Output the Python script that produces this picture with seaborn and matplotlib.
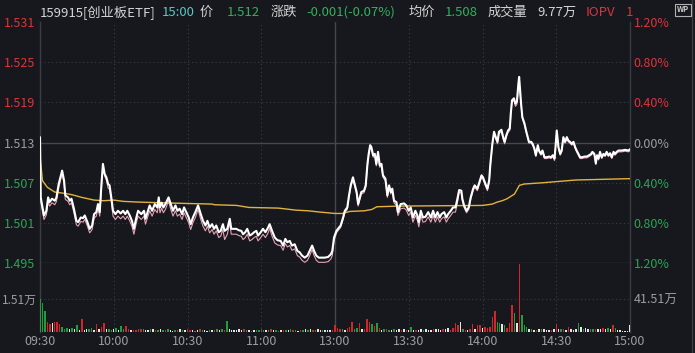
import matplotlib
matplotlib.use("Agg")
import matplotlib.pyplot as plt
from matplotlib.lines import Line2D
import seaborn as sns

# ==================================================
# Data (minutes after 09:30, lunch break removed)
# ==================================================
price_time = [
    0.0, 0.3, 1.6, 2.6, 3.3, 3.9, 4.9, 6.0, 6.7, 7.6,
    9.0, 9.8, 10.3, 11.4, 12.1, 12.8, 13.8, 14.8, 15.5, 16.6,
    17.5, 18.2, 19.3, 20.2, 21.2, 22.0, 22.9, 23.6, 24.3, 25.0,
    25.6, 26.3, 27.0, 27.7, 28.3, 29.0, 29.7, 30.7, 31.7, 32.8,
    33.8, 34.7, 35.5, 36.5, 37.4, 38.2, 39.2, 39.9, 41.2, 42.3,
    42.9, 43.9, 44.6, 45.6, 46.7, 47.7, 48.3, 48.8,
    49.5, 50.2, 51.0, 52.3, 53.2, 54.1, 55.1, 55.9, 56.8, 57.8,
    58.6, 59.5, 60.5, 61.3, 62.2, 63.2, 64.3, 65.4, 66.3, 67.3,
    68.1, 69.0, 70.0, 70.8, 71.7, 72.7, 73.5, 74.4, 75.1, 76.2,
    77.2, 77.8, 78.9, 79.9, 80.8, 81.9, 82.6, 83.5, 84.3, 85.3,
    86.2, 87.1, 88.0, 88.7, 89.8, 90.7, 91.7, 92.8, 93.4, 94.4,
    95.5,
    96.6, 97.9, 98.9, 99.8, 100.6, 101.6, 102.5, 103.6, 104.7, 105.6,
    106.6, 107.7, 108.8, 109.7, 110.7, 111.5, 112.4, 113.4, 114.5, 115.8,
    117.2, 118.3, 118.9, 119.6, 120.6, 121.2, 122.3, 123.3, 124.0, 125.0,
    125.7, 126.4, 127.3, 128.0, 128.8, 129.4, 130.1, 130.7, 131.8, 132.5,
    133.2, 133.7, 134.3, 134.8, 135.5, 136.2, 136.8, 137.5, 138.2, 138.9,
    139.5, 140.5, 141.3, 142.0, 142.7, 143.3, 144.0, 145.0, 145.6,
    146.7, 148.1, 149.0, 150.0, 150.8, 151.7, 152.7, 153.5, 154.1, 154.9,
    155.8, 156.8, 157.9, 159.0, 159.9, 160.8, 161.7, 162.6, 163.3, 164.4,
    165.3, 166.0, 167.1, 168.0, 169.0, 169.8, 170.5, 171.4, 171.8, 172.5,
    173.5, 174.4, 175.2, 176.2, 176.8, 177.9, 178.9, 179.6, 180.2, 181.2,
    182.0, 182.7, 183.2, 184.0, 184.7, 185.4, 186.1, 186.7, 187.7, 188.4,
    189.0, 189.7, 190.4, 191.1, 191.5, 192.0, 192.8,
    193.4, 194.0, 194.6, 194.9, 195.3, 195.7, 196.2, 197.1, 197.7, 198.4,
    198.9, 199.8, 200.4, 201.1, 201.7, 202.5, 203.0, 203.8, 204.4, 205.2,
    206.1, 207.1, 207.9, 208.6, 209.3, 209.8, 210.2, 210.9, 211.6, 212.2,
    212.9, 213.6, 214.3, 214.9, 215.6, 216.3, 217.0, 217.7, 218.3, 219.0,
    219.7, 220.4, 221.5, 222.4, 223.4, 224.2, 224.7, 225.5, 226.1, 226.6,
    227.2, 227.8, 228.5, 229.2, 229.9, 230.5, 231.2, 231.9, 232.6, 233.3,
    233.9, 234.6, 235.3, 236.6, 238.0, 239.4, 240.0,
]
price = [
    1.5138, 1.5048, 1.5021, 1.5028, 1.5048, 1.5041, 1.5046, 1.5043, 1.5048, 1.5068,
    1.5088, 1.5073, 1.5051, 1.5048, 1.5043, 1.5046, 1.5031, 1.5013, 1.5011, 1.5018,
    1.5017, 1.5021, 1.5011, 1.5001, 1.5006, 1.5023, 1.5026, 1.5038, 1.5026, 1.5068,
    1.5098, 1.5083, 1.5078, 1.5068, 1.5066, 1.5048, 1.5028, 1.5023, 1.5028, 1.5024,
    1.5028, 1.5023, 1.5028, 1.5021, 1.5013, 1.5001, 1.5018, 1.5028, 1.5023, 1.5028,
    1.5016, 1.5028, 1.5036, 1.5028, 1.5038, 1.5033, 1.5048, 1.5033,
    1.5040, 1.5033, 1.5038, 1.5048, 1.5038, 1.5028, 1.5036, 1.5028, 1.5031, 1.5023,
    1.5033, 1.5026, 1.5018, 1.5008, 1.5018, 1.5026, 1.5036, 1.5023, 1.5013, 1.5006,
    1.5013, 1.5003, 1.5008, 1.5001, 1.5006, 1.4996, 1.4998, 1.5008, 1.4998, 1.5001,
    1.5016, 1.5001, 1.5001, 1.5001, 1.4999, 1.4998, 1.4993, 1.4996, 1.5001, 1.4991,
    1.4993, 1.4996, 1.4998, 1.4991, 1.4996, 1.5001, 1.4996, 1.5003, 1.5008, 1.4998,
    1.4988,
    1.4984, 1.4983, 1.4976, 1.4986, 1.4981, 1.4983, 1.4976, 1.4978, 1.4968, 1.4966,
    1.4961, 1.4958, 1.4961, 1.4968, 1.4976, 1.4968, 1.4961, 1.4958, 1.4958, 1.4958,
    1.4959, 1.4963, 1.4968, 1.4988, 1.4998, 1.5001, 1.5006, 1.5018, 1.5028, 1.5033,
    1.5051, 1.5066, 1.5078, 1.5068, 1.5056, 1.5038, 1.5048, 1.5056, 1.5058, 1.5066,
    1.5098, 1.5113, 1.5126, 1.5123, 1.5111, 1.5113, 1.5098, 1.5116, 1.5096, 1.5098,
    1.5081, 1.5076, 1.5051, 1.5066, 1.5056, 1.5061, 1.5043, 1.5041, 1.5026,
    1.5038, 1.5039, 1.5036, 1.5028, 1.5033, 1.5018, 1.5028, 1.5021, 1.5011, 1.5028,
    1.5018, 1.5019, 1.5026, 1.5018, 1.5028, 1.5018, 1.5026, 1.5018, 1.5023, 1.5026,
    1.5018, 1.5023, 1.5028, 1.5033, 1.5033, 1.5046, 1.5059, 1.5058, 1.5046, 1.5036,
    1.5028, 1.5033, 1.5048, 1.5061, 1.5066, 1.5061, 1.5073, 1.5081, 1.5078, 1.5068,
    1.5061, 1.5073, 1.5098, 1.5128, 1.5146, 1.5138, 1.5131, 1.5146, 1.5149, 1.5138,
    1.5131, 1.5141, 1.5148, 1.5151, 1.5173, 1.5193, 1.5196,
    1.5188, 1.5191, 1.5218, 1.5228, 1.5208, 1.5188, 1.5168, 1.5158, 1.5148, 1.5138,
    1.5131, 1.5131, 1.5128, 1.5121, 1.5111, 1.5126, 1.5118, 1.5113, 1.5118, 1.5108,
    1.5108, 1.5109, 1.5108, 1.5111, 1.5106, 1.5128, 1.5148, 1.5123, 1.5113, 1.5118,
    1.5138, 1.5131, 1.5138, 1.5133, 1.5131, 1.5128, 1.5131, 1.5123, 1.5118, 1.5113,
    1.5108, 1.5108, 1.5109, 1.5109, 1.5111, 1.5113, 1.5116, 1.5113, 1.5099, 1.5111,
    1.5106, 1.5116, 1.5108, 1.5113, 1.5111, 1.5116, 1.5111, 1.5114, 1.5108, 1.5116,
    1.5113, 1.5116, 1.5118, 1.5118, 1.5119, 1.5118, 1.5120,
]
iopv = [
    1.5130, 1.5042, 1.5015, 1.5022, 1.5042, 1.5035, 1.5040, 1.5037, 1.5042, 1.5062,
    1.5084, 1.5068, 1.5045, 1.5042, 1.5037, 1.5040, 1.5025, 1.5007, 1.5005, 1.5012,
    1.5011, 1.5015, 1.5005, 1.4995, 1.5000, 1.5017, 1.5020, 1.5032, 1.5020, 1.5062,
    1.5094, 1.5080, 1.5074, 1.5062, 1.5060, 1.5042, 1.5020, 1.5015, 1.5020, 1.5016,
    1.5020, 1.5015, 1.5020, 1.5013, 1.5005, 1.4993, 1.5010, 1.5020, 1.5015, 1.5020,
    1.5008, 1.5020, 1.5028, 1.5020, 1.5030, 1.5025, 1.5040, 1.5025,
    1.5032, 1.5025, 1.5030, 1.5043, 1.5030, 1.5020, 1.5028, 1.5020, 1.5023, 1.5015,
    1.5025, 1.5018, 1.5010, 1.5000, 1.5010, 1.5018, 1.5030, 1.5015, 1.5005, 1.4998,
    1.5005, 1.4995, 1.5000, 1.4993, 1.4998, 1.4988, 1.4990, 1.5000, 1.4985, 1.4993,
    1.5010, 1.4993, 1.4993, 1.4993, 1.4991, 1.4990, 1.4985, 1.4988, 1.4993, 1.4983,
    1.4985, 1.4988, 1.4990, 1.4983, 1.4988, 1.4993, 1.4988, 1.4995, 1.5002, 1.4990,
    1.4980,
    1.4977, 1.4976, 1.4969, 1.4979, 1.4974, 1.4976, 1.4969, 1.4971, 1.4961, 1.4959,
    1.4954, 1.4951, 1.4954, 1.4961, 1.4970, 1.4961, 1.4954, 1.4951, 1.4951, 1.4951,
    1.4952, 1.4956, 1.4961, 1.4983, 1.4995, 1.4998, 1.5003, 1.5015, 1.5025, 1.5030,
    1.5048, 1.5063, 1.5075, 1.5065, 1.5053, 1.5035, 1.5045, 1.5053, 1.5055, 1.5063,
    1.5095, 1.5110, 1.5123, 1.5120, 1.5108, 1.5110, 1.5095, 1.5113, 1.5093, 1.5095,
    1.5078, 1.5073, 1.5048, 1.5063, 1.5053, 1.5058, 1.5040, 1.5036, 1.5021,
    1.5031, 1.5032, 1.5029, 1.5021, 1.5026, 1.5011, 1.5021, 1.5014, 1.5004, 1.5021,
    1.5011, 1.5012, 1.5019, 1.5011, 1.5021, 1.5011, 1.5019, 1.5011, 1.5016, 1.5019,
    1.5011, 1.5016, 1.5021, 1.5026, 1.5026, 1.5040, 1.5055, 1.5055, 1.5043, 1.5033,
    1.5025, 1.5030, 1.5045, 1.5058, 1.5063, 1.5058, 1.5070, 1.5078, 1.5075, 1.5065,
    1.5058, 1.5070, 1.5095, 1.5125, 1.5143, 1.5135, 1.5128, 1.5143, 1.5146, 1.5135,
    1.5128, 1.5138, 1.5145, 1.5148, 1.5170, 1.5190, 1.5193,
    1.5184, 1.5187, 1.5214, 1.5222, 1.5204, 1.5185, 1.5166, 1.5156, 1.5146, 1.5136,
    1.5129, 1.5129, 1.5126, 1.5119, 1.5109, 1.5124, 1.5116, 1.5111, 1.5116, 1.5106,
    1.5106, 1.5107, 1.5106, 1.5109, 1.5103, 1.5126, 1.5146, 1.5121, 1.5111, 1.5116,
    1.5136, 1.5129, 1.5136, 1.5131, 1.5129, 1.5126, 1.5129, 1.5121, 1.5116, 1.5111,
    1.5106, 1.5106, 1.5107, 1.5107, 1.5109, 1.5111, 1.5114, 1.5111, 1.5097, 1.5109,
    1.5104, 1.5114, 1.5106, 1.5111, 1.5109, 1.5114, 1.5109, 1.5112, 1.5106, 1.5114,
    1.5111, 1.5114, 1.5116, 1.5116, 1.5117, 1.5116, 1.5118,
]
avg_time = [0, 1, 3, 6, 10, 13, 17, 22, 26, 30,
            34, 40, 49, 59, 70, 71, 80, 85, 97, 104,
            109, 114, 120, 123, 126, 132, 135, 137, 146, 180,
            184, 186, 188, 190, 193, 195, 197, 205, 218, 240]
avg_price = [1.5110, 1.5073, 1.5063, 1.5056, 1.5054, 1.5052, 1.5048, 1.5044, 1.5043, 1.5044,
             1.5042, 1.5041, 1.5040, 1.5039, 1.5038, 1.5037, 1.5036, 1.5033, 1.5032, 1.5029,
             1.5028, 1.5026, 1.5024, 1.5024, 1.5027, 1.5028, 1.5030, 1.5034, 1.5035, 1.5036,
             1.5038, 1.5041, 1.5043, 1.5046, 1.5053, 1.5066, 1.5068, 1.5070, 1.5074, 1.5076]

# volume per minute (万), direction: r = up, g = down, w = flat
vol = [
    1.51, 1.34, 0.95, 0.46, 0.38, 0.42, 0.45, 0.44, 0.35, 0.22,
    0.12, 0.18, 0.15, 0.17, 0.12, 0.32, 0.08, 0.58, 0.10, 0.15,
    0.16, 0.18, 0.10, 0.36, 0.12, 0.24, 0.43, 0.12, 0.12, 0.09,
    0.12, 0.18, 0.08, 0.27, 0.16, 0.27, 0.12, 0.08, 0.09, 0.09,
    0.12, 0.15, 0.16, 0.08, 0.10, 0.12, 0.14, 0.08, 0.10, 0.12,
    0.10, 0.08, 0.12, 0.10, 0.06, 0.10, 0.08, 0.12, 0.10, 0.08,
    0.12, 0.10, 0.08, 0.06, 0.10, 0.12, 0.08, 0.10, 0.06, 0.08,
    0.10, 0.08, 0.12, 0.10, 0.14, 0.10, 0.50, 0.12, 0.08, 0.10,
    0.10, 0.12, 0.08, 0.14, 0.10, 0.08, 0.06, 0.10, 0.08, 0.10,
    0.12, 0.10, 0.08, 0.10, 0.12, 0.08, 0.10, 0.06, 0.08, 0.10,
    0.08, 0.10, 0.12, 0.10, 0.08, 0.06, 0.10, 0.08, 0.12, 0.10,
    0.16, 0.10, 0.08, 0.12, 0.10, 0.08, 0.10, 0.08, 0.10, 0.08,
    0.32, 0.18, 0.15, 0.12, 0.10, 0.20, 0.22, 0.47, 0.12, 0.20,
    0.40, 0.15, 0.12, 0.58, 0.47, 0.36, 0.29, 0.43, 0.17, 0.10,
    0.15, 0.12, 0.10, 0.10, 0.15, 0.10, 0.12, 0.10, 0.12, 0.10,
    0.10, 0.24, 0.10, 0.08, 0.10, 0.12, 0.10, 0.12, 0.10, 0.08,
    0.15, 0.12, 0.15, 0.10, 0.12, 0.15, 0.18, 0.10, 0.20, 0.43,
    0.30, 0.46, 0.12, 0.10, 0.10, 0.12, 0.36, 0.12, 0.32, 0.30,
    0.20, 0.24, 0.18, 0.24, 0.70, 0.97, 0.47, 0.40, 0.35, 0.30,
    0.20, 0.43, 1.23, 0.88, 0.40, 3.10, 0.78, 0.32, 0.24, 0.15,
    0.15, 0.10, 0.10, 0.12, 0.12, 0.12, 0.10, 0.08, 0.10, 0.12,
    0.36, 0.15, 0.12, 0.15, 0.10, 0.24, 0.12, 0.10, 0.15, 0.43,
    0.24, 0.15, 0.20, 0.12, 0.15, 0.15, 0.15, 0.15, 0.12, 0.18,
    0.15, 0.20, 0.12, 0.32, 0.20, 0.08, 0.08, 0.06, 0.05, 0.06,
    0.32,
]
vol_dir = "".join([
    "gggrrwrrrg", "ggwgwgwrww", "ggwrwrrwgg", "wgwggrrwrr", "rrgwwgwrgw",
    "grgwwgrwgw", "rrwgwrgwwg", "wrgwgrgwww", "wwwrgwgwgg", "rgwgrwggwr",
    "gwgrgwrgwg", "wrgwwgwwwr", "rrrgwrrrgg", "rwrrrgrgrw", "grgwgwwrwr",
    "wgwrwwgwww", "rwwwrwwrrr", "rwgrwrrwrr", "wrrrrrggwg", "rrrgwrgggw",
    "gwrwgwwwrw", "rwgrwrwwwg", "wgwwggrwwr", "wgwrgwwwww", "w",
])

prev_close = 1.513
price_ticks = [1.495, 1.501, 1.507, 1.513, 1.519, 1.525, 1.531]
pct_labels = ["1.20%", "0.80%", "0.40%", "0.00%", "0.40%", "0.80%", "1.20%"]
time_ticks = [0, 30, 60, 90, 120, 150, 180, 210, 240]
time_labels = ["09:30", "10:00", "10:30", "11:00", "13:00", "13:30", "14:00", "14:30", "15:00"]
vol_tick = 1.51
vol_left_label = "1.51万"
vol_right_label = "41.51万"

# header: (text, x pixel, colour key)
header = [
    ("159915[创业板ETF]", 40, "txt"), ("15:00", 162, "teal"), ("价", 200, "txt"),
    ("1.512", 227, "green"), ("涨跌", 271, "txt"), ("-0.001(-0.07%)", 306, "green"),
    ("均价", 409, "txt"), ("1.508", 445, "green"), ("成交量", 488, "txt"),
    ("9.77万", 537, "txt"), ("IOPV", 586, "red"), ("1", 626, "red"),
]

# ==================================================
# Settings
# ==================================================
BG = "#16181d"
GRID = "#3a3d44"
RED = "#d8363c"
GREEN = "#2aa552"
GRAY = "#9b9da3"
colors = {"txt": "#d4d4d6", "teal": "#5cc6c6", "green": "#2fb25a", "red": "#d8363c"}

sns.set_theme(style="dark", rc={"axes.facecolor": BG, "figure.facecolor": BG})
plt.rcParams["font.family"] = ["Noto Sans CJK SC", "DejaVu Sans"]

W, H = 695, 353
fig = plt.figure(figsize=(W / 100, H / 100), dpi=100)
L, R = 40 / W, 630 / W
ax_p = fig.add_axes([L, 1 - 263 / H, R - L, (263 - 22) / H])
ax_v = fig.add_axes([L, 1 - 332 / H, R - L, (332 - 263) / H])

for ax in (ax_p, ax_v):
    ax.set_facecolor(BG)
    ax.set_xlim(0, 240)
    ax.grid(False)
    for side in ("left", "right", "bottom", "top"):
        ax.spines[side].set_color(GRID)
        ax.spines[side].set_linewidth(1.0)
    ax.spines["top"].set_visible(False)
    for t in time_ticks[1:-1]:
        if t == 120:
            ax.axvline(t, color="#44474e", lw=1.0, zorder=1)
        else:
            ax.axvline(t, color=GRID, lw=0.8, ls=(0, (1, 2.5)), zorder=1)
ax_v.spines["bottom"].set_visible(False)

# ==================================================
# Price panel
# ==================================================
ax_p.set_ylim(price_ticks[0], price_ticks[-1])
for v in price_ticks[1:-1]:
    if v == prev_close:
        ax_p.axhline(v, color="#44474e", lw=1.0, zorder=1)
    else:
        ax_p.axhline(v, color=GRID, lw=0.8, ls=(0, (1, 2.5)), zorder=1)

sns.lineplot(x=avg_time, y=avg_price, ax=ax_p, color="#e2b23e", linewidth=1.0,
             estimator=None, sort=False, zorder=3)
sns.lineplot(x=price_time, y=iopv, ax=ax_p, color="#e6a2b4", linewidth=0.8,
             estimator=None, sort=False, zorder=4)
sns.lineplot(x=price_time, y=price, ax=ax_p, color="white", linewidth=1.5,
             estimator=None, sort=False, zorder=5)

def level_color(v):
    if abs(v - prev_close) < 1e-9:
        return GRAY
    return RED if v > prev_close else GREEN

ax_p.set_xticks([])
ax_p.set_xlabel("")
ax_p.set_ylabel("")
ax_p.set_yticks(price_ticks)
ax_p.set_yticklabels([f"{v:.3f}" for v in price_ticks])
ax_p.tick_params(axis="y", length=0, pad=3.5, labelsize=9)
for lab, v in zip(ax_p.get_yticklabels(), price_ticks):
    lab.set_color(level_color(v))

ax_r = ax_p.twinx()
ax_r.set_ylim(ax_p.get_ylim())
ax_r.set_yticks(price_ticks)
ax_r.set_yticklabels(pct_labels)
ax_r.tick_params(axis="y", length=0, pad=2.5, labelsize=9)
ax_r.grid(False)
for side in ax_r.spines:
    ax_r.spines[side].set_visible(False)
for lab, v in zip(ax_r.get_yticklabels(), price_ticks):
    lab.set_color(level_color(v))

# ==================================================
# Volume panel
# ==================================================
bar_colors = [{"r": "#d2262b", "g": "#1f9e3c", "w": "#e6e6e6"}[c] for c in vol_dir]
ax_v.bar(range(len(vol)), vol, width=0.6, color=bar_colors, linewidth=0,
         antialiased=False, zorder=3)
ax_v.set_ylim(0, 3.16)
ax_v.axhline(vol_tick, color=GRID, lw=0.8, ls=(0, (1, 2.5)), zorder=1)
ax_v.set_yticks([vol_tick])
ax_v.set_yticklabels([vol_left_label])
ax_v.tick_params(axis="y", length=0, pad=2.5, labelsize=8.5, colors=GRAY)
ax_v.set_xticks(time_ticks)
ax_v.set_xticklabels(time_labels)
ax_v.tick_params(axis="x", length=0, pad=2.5, labelsize=9, colors=GRAY)

ax_v2 = ax_v.twinx()
ax_v2.set_ylim(ax_v.get_ylim())
ax_v2.set_yticks([vol_tick])
ax_v2.set_yticklabels([vol_right_label])
ax_v2.tick_params(axis="y", length=0, pad=2.5, labelsize=9, colors=GRAY)
ax_v2.grid(False)
for side in ax_v2.spines:
    ax_v2.spines[side].set_visible(False)

# ==================================================
# Header and frame
# ==================================================
for text, x, key in header:
    fig.text(x / W, 1 - 12.5 / H, text, color=colors[key], fontsize=9.5,
             ha="left", va="center")

fig.add_artist(Line2D([692 / W, 692 / W], [0, 1], color=GRID, lw=1.0))
fig.text(683 / W, 1 - 10 / H, "WP", color="#c8c8c8", fontsize=5.5, ha="center",
         va="center", fontweight="bold",
         bbox=dict(facecolor="none", edgecolor="#b0b0b0", boxstyle="square,pad=0.2", lw=0.8))

fig.savefig("out.png", dpi=100, facecolor=fig.get_facecolor())
